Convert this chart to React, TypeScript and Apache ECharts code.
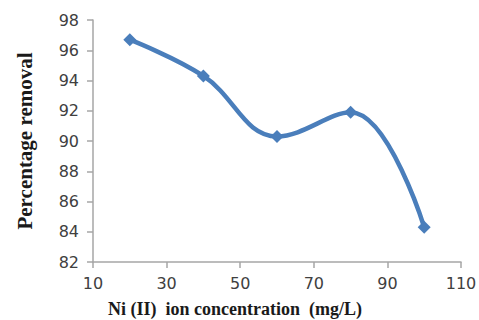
import React, { useEffect, useRef } from "react";
import * as echarts from "echarts";

const concentrations = [20, 40, 60, 80, 100];
const removal = [96.7, 94.3, 90.3, 91.9, 84.3];
const xTitle = "Ni (II)  ion concentration  (mg/L)";
const yTitle = "Percentage removal";

export default function App() {
  const ref = useRef<HTMLDivElement>(null);
  useEffect(() => {
    if (!ref.current) return;
    const chart = echarts.init(ref.current, null, { renderer: "svg" });
    const axisColor = "#a6a6a6";
    const labelStyle = { color: "#404040", fontFamily: "DejaVu Sans", fontSize: 16 };
    const serif = "'Liberation Serif', 'Times New Roman', serif";
    chart.setOption({
      animation: false,
      backgroundColor: "#ffffff",
      grid: { left: 93, right: 18, top: 20, bottom: 58, containLabel: false, outerBoundsMode: "none" },
      xAxis: {
        type: "value",
        min: 10,
        max: 110,
        interval: 20,
        name: xTitle,
        nameLocation: "middle",
        nameGap: 38,
        nameTextStyle: {
          fontFamily: serif,
          fontWeight: "bold",
          fontSize: 18,
          lineHeight: 18,
          color: "#1a1a1a",
          padding: [0, 84, 0, 0],
        },
        axisLine: { show: true, lineStyle: { color: axisColor, width: 1.5 } },
        axisTick: { show: true, length: 6, inside: false, lineStyle: { color: axisColor, width: 1.5 } },
        axisLabel: { ...labelStyle, margin: 13 },
        splitLine: { show: false },
      },
      yAxis: {
        type: "value",
        min: 82,
        max: 98,
        interval: 2,
        name: yTitle,
        nameLocation: "middle",
        nameGap: 58,
        nameTextStyle: {
          fontFamily: serif,
          fontWeight: "bold",
          fontSize: 21,
          color: "#1a1a1a",
        },
        axisLine: { show: true, lineStyle: { color: axisColor, width: 1.5 } },
        axisTick: { show: true, length: 6, inside: false, lineStyle: { color: axisColor, width: 1.5 } },
        axisLabel: { ...labelStyle, margin: 14 },
        splitLine: { show: false },
      },
      series: [
        {
          type: "line",
          data: concentrations.map((c, i) => [c, removal[i]]),
          smooth: 0.4,
          symbol: "diamond",
          symbolSize: 13,
          lineStyle: { color: "#4a7ebb", width: 4.5 },
          itemStyle: { color: "#4a7ebb" },
        },
      ],
    });
    return () => chart.dispose();
  }, []);
  return <div ref={ref} style={{ width: 479, height: 320, position: "absolute", left: 0, top: 0 }} />;
}
